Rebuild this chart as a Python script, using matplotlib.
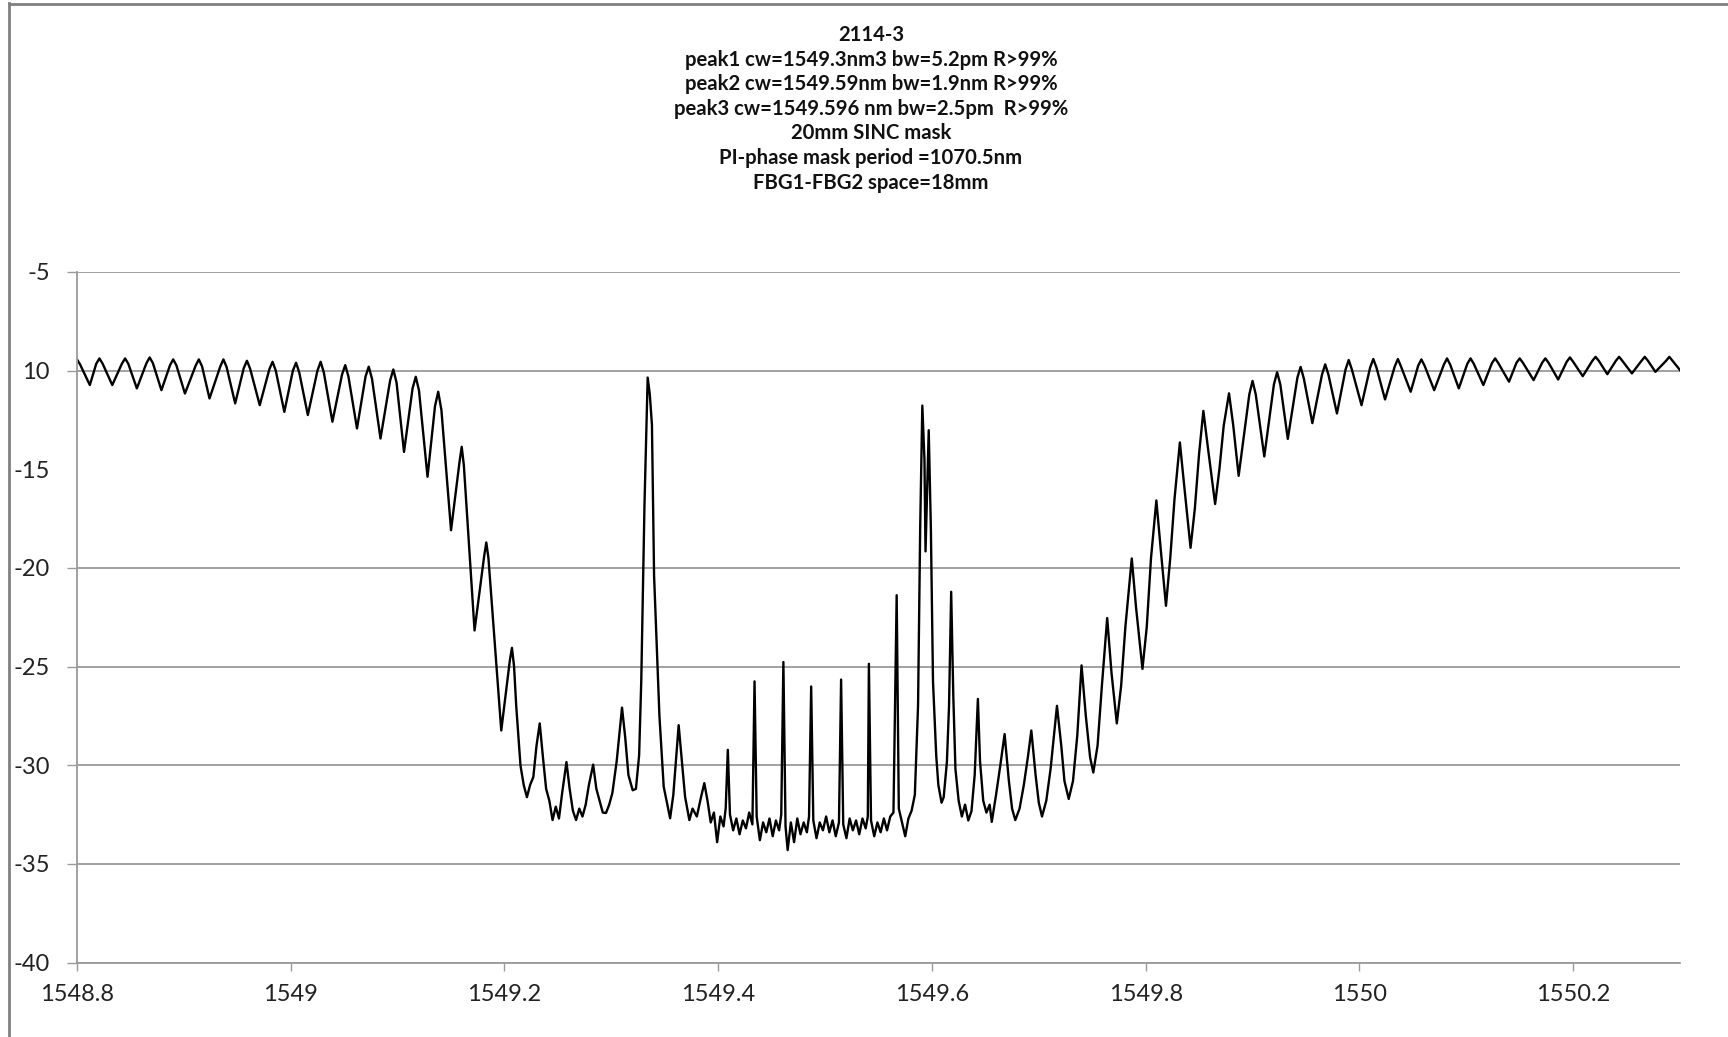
import matplotlib
matplotlib.use("Agg")
import matplotlib.pyplot as plt
from matplotlib.lines import Line2D

plt.rcParams['font.family'] = ['Lato', 'DejaVu Sans']

# trace (nm, dB), split in three stretches
# left ripple and edge of the stop band
wl_left = [
    1548.800, 1548.803, 1548.812, 1548.818, 1548.821, 1548.824, 1548.833, 1548.842,
    1548.845, 1548.848, 1548.856, 1548.865, 1548.868, 1548.871, 1548.879, 1548.887,
    1548.890, 1548.893, 1548.901, 1548.911, 1548.914, 1548.917, 1548.924, 1548.934,
    1548.937, 1548.940, 1548.948, 1548.956, 1548.959, 1548.962, 1548.971, 1548.980,
    1548.983, 1548.986, 1548.994, 1549.002, 1549.005, 1549.008, 1549.016, 1549.025,
    1549.028, 1549.031, 1549.039, 1549.048, 1549.051, 1549.054, 1549.062, 1549.070,
    1549.073, 1549.076, 1549.084, 1549.093, 1549.096, 1549.099, 1549.106, 1549.114,
    1549.117, 1549.120, 1549.128, 1549.135, 1549.138, 1549.141, 1549.150, 1549.158,
    1549.160, 1549.162, 1549.172, 1549.181, 1549.183, 1549.185, 1549.197, 1549.205,
    1549.207, 1549.209,
]
power_left = [
    -9.43, -9.70, -10.73, -9.65, -9.38, -9.65, -10.73, -9.65,
    -9.38, -9.65, -10.90, -9.62, -9.33, -9.62, -10.99, -9.73,
    -9.43, -9.73, -11.16, -9.75, -9.43, -9.78, -11.41, -9.80,
    -9.43, -9.82, -11.66, -9.88, -9.50, -9.90, -11.75, -9.93,
    -9.55, -10.00, -12.09, -10.00, -9.60, -10.10, -12.25, -10.00,
    -9.55, -10.10, -12.59, -10.20, -9.72, -10.30, -12.93, -10.30,
    -9.80, -10.40, -13.44, -10.50, -9.94, -10.60, -14.12, -10.90,
    -10.31, -11.00, -15.38, -11.80, -11.07, -12.00, -18.09, -14.60,
    -13.86, -14.80, -23.17, -19.40, -18.71, -19.50, -28.24, -24.70,
    -24.05, -25.00,
]

# bottom of the stop band: side lobes, transmission peaks and spikes, noise floor
wl_band = [
    1549.211, 1549.215, 1549.218, 1549.221, 1549.224, 1549.227, 1549.230, 1549.233,
    1549.236, 1549.239, 1549.242, 1549.245, 1549.248, 1549.251, 1549.254, 1549.258,
    1549.261, 1549.264, 1549.267, 1549.270, 1549.273, 1549.276, 1549.279, 1549.283,
    1549.286, 1549.289, 1549.292, 1549.295, 1549.298, 1549.301, 1549.305, 1549.310,
    1549.313, 1549.316, 1549.320, 1549.323, 1549.326, 1549.328, 1549.331, 1549.334,
    1549.336, 1549.338, 1549.340, 1549.345, 1549.349, 1549.352, 1549.355, 1549.358,
    1549.363, 1549.366, 1549.369, 1549.373, 1549.376, 1549.380, 1549.384, 1549.387,
    1549.390, 1549.393, 1549.396, 1549.399, 1549.402, 1549.405, 1549.407, 1549.409,
    1549.411, 1549.414, 1549.417, 1549.420, 1549.423, 1549.426, 1549.429, 1549.432,
    1549.434, 1549.436, 1549.439, 1549.442, 1549.445, 1549.448, 1549.451, 1549.454,
    1549.457, 1549.459, 1549.461, 1549.463, 1549.465, 1549.468, 1549.471, 1549.474,
    1549.477, 1549.480, 1549.483, 1549.485, 1549.487, 1549.489, 1549.492, 1549.495,
    1549.498, 1549.501, 1549.504, 1549.507, 1549.510, 1549.513, 1549.515, 1549.517,
    1549.520, 1549.523, 1549.526, 1549.529, 1549.532, 1549.535, 1549.538, 1549.540,
    1549.541, 1549.543, 1549.546, 1549.549, 1549.552, 1549.555, 1549.558, 1549.561,
    1549.564, 1549.567, 1549.569, 1549.572, 1549.575, 1549.578, 1549.581, 1549.584,
    1549.587, 1549.589, 1549.591, 1549.593, 1549.594, 1549.596, 1549.597, 1549.599,
    1549.601, 1549.604, 1549.606, 1549.609, 1549.611, 1549.614, 1549.616, 1549.618,
    1549.620, 1549.622, 1549.625, 1549.628, 1549.631, 1549.634, 1549.637, 1549.640,
    1549.643, 1549.645, 1549.648, 1549.651, 1549.654, 1549.656, 1549.660, 1549.664,
    1549.668, 1549.672, 1549.675, 1549.678, 1549.682, 1549.686, 1549.690, 1549.693,
    1549.697, 1549.700, 1549.703, 1549.707, 1549.711, 1549.717, 1549.721, 1549.724,
    1549.728, 1549.732, 1549.736, 1549.740, 1549.744, 1549.748, 1549.751, 1549.755,
    1549.759, 1549.764, 1549.768, 1549.773, 1549.777, 1549.781, 1549.787, 1549.791,
    1549.797, 1549.801, 1549.805, 1549.810, 1549.814, 1549.819, 1549.823, 1549.827,
    1549.832, 1549.836, 1549.842, 1549.846, 1549.850, 1549.854, 1549.858, 1549.865,
    1549.869, 1549.873, 1549.878, 1549.882, 1549.887,
]
power_band = [
    -27.00, -30.02, -31.00, -31.62, -31.00, -30.60, -29.00, -27.88,
    -29.60, -31.20, -31.80, -32.78, -32.10, -32.70, -31.40, -29.84,
    -31.20, -32.30, -32.78, -32.20, -32.60, -32.00, -31.00, -29.97,
    -31.20, -31.80, -32.40, -32.42, -32.00, -31.40, -29.80, -27.08,
    -28.60, -30.50, -31.27, -31.20, -29.50, -25.75, -16.85, -10.35,
    -11.20, -12.75, -20.40, -27.50, -31.09, -31.90, -32.69, -31.50,
    -27.97, -29.80, -31.60, -32.78, -32.20, -32.60, -31.60, -30.91,
    -31.80, -32.90, -32.40, -33.90, -32.60, -33.10, -32.20, -29.22,
    -32.50, -33.30, -32.70, -33.50, -32.80, -33.20, -32.40, -33.00,
    -25.75, -32.60, -33.80, -32.90, -33.40, -32.70, -33.60, -32.80,
    -33.30, -32.50, -24.77, -33.10, -34.30, -32.90, -33.90, -32.70,
    -33.50, -32.90, -33.40, -32.60, -26.01, -32.80, -33.70, -32.90,
    -33.30, -32.60, -33.40, -32.80, -33.60, -32.90, -25.66, -33.00,
    -33.70, -32.70, -33.30, -32.80, -33.50, -32.70, -33.20, -32.60,
    -24.86, -32.80, -33.60, -32.90, -33.40, -32.70, -33.30, -32.60,
    -32.40, -21.38, -32.20, -32.90, -33.60, -32.70, -32.30, -31.50,
    -27.00, -18.00, -11.77, -14.50, -19.16, -15.00, -13.02, -18.00,
    -25.75, -29.50, -31.00, -31.90, -31.62, -29.84, -27.00, -21.21,
    -26.50, -30.20, -31.80, -32.60, -32.00, -32.80, -32.33, -30.50,
    -26.64, -29.80, -31.80, -32.40, -32.00, -32.87, -31.50, -30.00,
    -28.42, -30.80, -32.20, -32.78, -32.20, -31.00, -29.50, -28.24,
    -30.50, -31.90, -32.60, -31.80, -30.20, -26.99, -29.00, -30.80,
    -31.71, -30.80, -28.50, -24.94, -27.50, -29.60, -30.37, -29.00,
    -26.00, -22.54, -25.30, -27.88, -26.00, -23.00, -19.52, -22.00,
    -25.12, -23.00, -19.50, -16.58, -19.00, -21.92, -19.50, -16.50,
    -13.64, -15.80, -18.98, -17.00, -14.20, -12.04, -13.80, -16.76,
    -15.00, -12.80, -11.15, -12.80, -15.33,
]

# right ripple
wl_right = [
    1549.897, 1549.900, 1549.903, 1549.911, 1549.920, 1549.923, 1549.926, 1549.933,
    1549.942, 1549.945, 1549.948, 1549.956, 1549.965, 1549.968, 1549.971, 1549.979,
    1549.987, 1549.990, 1549.993, 1550.002, 1550.010, 1550.013, 1550.016, 1550.024,
    1550.033, 1550.036, 1550.039, 1550.048, 1550.055, 1550.058, 1550.061, 1550.070,
    1550.079, 1550.082, 1550.085, 1550.093, 1550.101, 1550.104, 1550.107, 1550.116,
    1550.124, 1550.127, 1550.130, 1550.140, 1550.147, 1550.150, 1550.153, 1550.163,
    1550.171, 1550.174, 1550.177, 1550.186, 1550.194, 1550.197, 1550.200, 1550.209,
    1550.218, 1550.221, 1550.224, 1550.232, 1550.240, 1550.243, 1550.246, 1550.255,
    1550.264, 1550.267, 1550.270, 1550.277, 1550.287, 1550.290, 1550.293, 1550.300,
]
power_right = [
    -11.20, -10.52, -11.20, -14.35, -10.70, -10.08, -10.70, -13.46,
    -10.35, -9.81, -10.40, -12.66, -10.20, -9.68, -10.20, -12.17,
    -9.95, -9.46, -9.95, -11.75, -9.85, -9.41, -9.85, -11.46,
    -9.80, -9.41, -9.80, -11.07, -9.75, -9.43, -9.75, -10.99,
    -9.70, -9.38, -9.70, -10.90, -9.65, -9.38, -9.65, -10.73,
    -9.62, -9.38, -9.62, -10.56, -9.60, -9.38, -9.60, -10.48,
    -9.60, -9.38, -9.60, -10.45, -9.55, -9.33, -9.55, -10.28,
    -9.50, -9.30, -9.50, -10.18, -9.50, -9.30, -9.50, -10.14,
    -9.50, -9.30, -9.50, -10.06, -9.50, -9.30, -9.50, -9.97,
]

x_ticks = [1548.8, 1549, 1549.2, 1549.4, 1549.6, 1549.8, 1550, 1550.2]
x_labels = ['1548.8', '1549', '1549.2', '1549.4', '1549.6', '1549.8', '1550', '1550.2']
y_ticks = [-40, -35, -30, -25, -20, -15, -10, -5]
y_labels = ['-40', '-35', '-30', '-25', '-20', '-15', '10', '-5']

title_lines = [
    '2114-3',
    'peak1 cw=1549.3nm3 bw=5.2pm R>99%',
    'peak2 cw=1549.59nm bw=1.9nm R>99%',
    'peak3 cw=1549.596 nm bw=2.5pm  R>99%',
    '20mm SINC mask',
    'PI-phase mask period =1070.5nm',
    'FBG1-FBG2 space=18mm',
]

wl = wl_left + wl_band + wl_right
power = power_left + power_band + power_right

W, H = 1728, 1037
fig = plt.figure(figsize=(W / 100, H / 100), dpi=100)
ax = fig.add_axes([77 / W, 1 - 962.5 / H, (1680 - 77) / W, (962.5 - 272) / H])

ax.plot(wl, power, color='black', lw=1.7, solid_joinstyle='round')

ax.set_xlim(1548.8, 1550.3)
ax.set_ylim(-40, -5)
ax.set_xticks(x_ticks)
ax.set_xticklabels(x_labels)
ax.set_yticks(y_ticks)
ax.set_yticklabels(y_labels)

grid_c = '#9a9a9a'
ax.grid(axis='y', color=grid_c, lw=1.3)
ax.set_axisbelow(True)
for s in ['top', 'right']:
    ax.spines[s].set_visible(False)
for s in ['left', 'bottom']:
    ax.spines[s].set_color(grid_c)
    ax.spines[s].set_linewidth(1.3)

ax.tick_params(axis='y', direction='out', length=7.5, width=1.0, color=grid_c,
               labelsize=17, pad=12, labelcolor='#222222')
ax.tick_params(axis='x', direction='out', length=5.5, width=1.0, color=grid_c,
               labelsize=17, pad=10, labelcolor='#222222')

# the -15 grid line and tick are absent in the original
i15 = y_ticks.index(-15)
ax.yaxis.get_gridlines()[i15].set_visible(False)
ax.yaxis.get_major_ticks()[i15].tick1line.set_visible(False)

# chart frame (left and top edges)
fig.add_artist(Line2D([9 / W, 9 / W], [0, 1 - 3 / H], color='#808080', lw=2.0))
fig.add_artist(Line2D([9 / W, 1], [1 - 4 / H, 1 - 4 / H], color='#808080', lw=2.0))

for i, t in enumerate(title_lines):
    fig.text(871 / W, 1 - (35 + i * 24.6) / H, t, ha='center', va='center',
             fontsize=14.6, fontweight='bold', color='#111111')

fig.savefig('out.png', dpi=100, facecolor='white')
